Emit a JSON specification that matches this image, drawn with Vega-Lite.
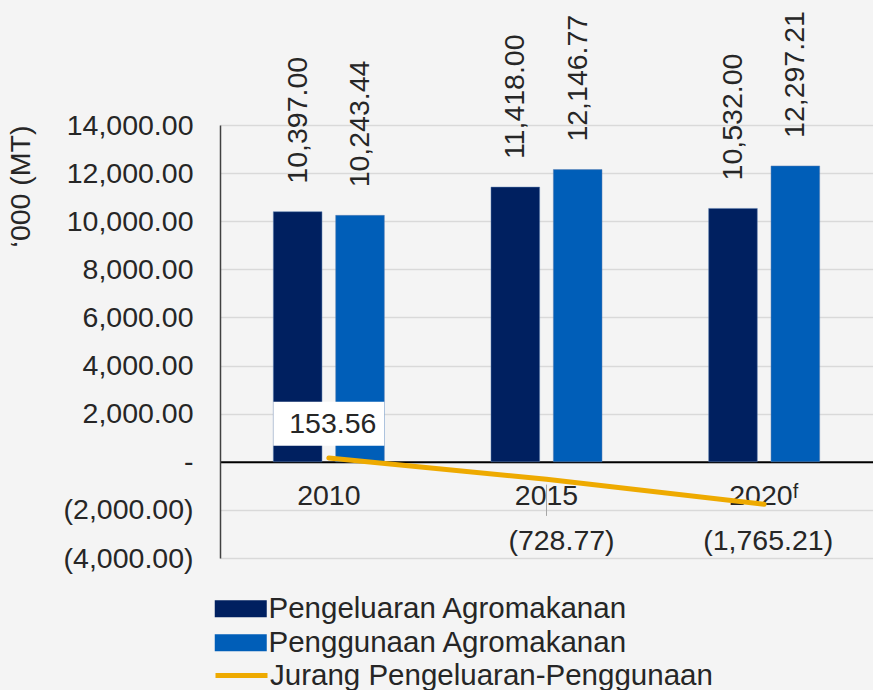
{
  "$schema": "https://vega.github.io/schema/vega-lite/v6.json",
  "width": 653,
  "height": 433,
  "autosize": {"type": "none"},
  "padding": {"left": 220, "top": 125, "right": 0, "bottom": 132},
  "background": "#f4f4f4",
  "config": {
    "font": "Liberation Sans",
    "view": {"stroke": null},
    "axis": {"labelColor": "#262626", "titleColor": "#262626", "labelFont": "Liberation Sans", "titleFont": "Liberation Sans"}
  },
  "datasets": {
    "bars": [
      {"year": "2010", "series": "Pengeluaran Agromakanan", "value": 10397.00},
      {"year": "2010", "series": "Penggunaan Agromakanan", "value": 10243.44},
      {"year": "2015", "series": "Pengeluaran Agromakanan", "value": 11418.00},
      {"year": "2015", "series": "Penggunaan Agromakanan", "value": 12146.77},
      {"year": "2020ᶠ", "series": "Pengeluaran Agromakanan", "value": 10532.00},
      {"year": "2020ᶠ", "series": "Penggunaan Agromakanan", "value": 12297.21}
    ],
    "gap": [
      {"year": "2010", "gap": 153.56},
      {"year": "2015", "gap": -728.77},
      {"year": "2020ᶠ", "gap": -1765.21}
    ]
  },
  "layer": [
    {
      "data": {"name": "bars"},
      "mark": {"type": "bar", "stroke": "#5a7fb0", "strokeWidth": 0.5},
      "encoding": {
        "x": {
          "field": "year", "type": "nominal", "sort": ["2010", "2015", "2020ᶠ"],
          "scale": {"paddingInner": 0.49, "paddingOuter": 0.245},
          "axis": {
            "title": null, "orient": "bottom", "offset": -96.2, "labelAngle": 0,
            "labelFontSize": 28.5, "labelPadding": 20, "ticks": false,
            "domainColor": "#000000", "domainWidth": 2, "grid": false
          }
        },
        "xOffset": {
          "field": "series", "type": "nominal",
          "sort": ["Pengeluaran Agromakanan", "Penggunaan Agromakanan"],
          "scale": {"paddingInner": 0.22, "paddingOuter": 0}
        },
        "y": {
          "field": "value", "type": "quantitative",
          "scale": {"domain": [-4000, 14000], "nice": false, "zero": false},
          "axis": {
            "title": "‘000 (MT)", "titleFontSize": 28.5, "titleFontWeight": "normal",
            "titleAnchor": "end", "titlePadding": 28,
            "values": [-4000, -2000, 0, 2000, 4000, 6000, 8000, 10000, 12000, 14000],
            "labelExpr": "datum.value == 0 ? '-\u00a0\u00a0\u00a0' : (datum.value < 0 ? '(' + format(-datum.value, ',.2f') + ')' : format(datum.value, ',.2f') + '\u00a0')",
            "labelFontSize": 28.5, "labelPadding": 27, "ticks": false,
            "domainColor": "#404040", "domainWidth": 1.5,
            "grid": true, "gridColor": "#d9d9d9", "gridWidth": 1.5
          }
        },
        "color": {
          "field": "series", "type": "nominal",
          "scale": {"domain": ["Pengeluaran Agromakanan", "Penggunaan Agromakanan"], "range": ["#002060", "#005EB8"]},
          "legend": {
            "title": null, "orient": "none", "legendX": 6, "legendY": 469,
            "symbolType": "M-2,-0.66H2V0.66H-2Z", "symbolSize": 676, "symbolStrokeWidth": 0,
            "labelFontSize": 29.5, "labelColor": "#262626", "labelOffset": 13, "rowPadding": 3, "labelLimit": 700
          }
        }
      }
    },
    {
      "data": {"name": "bars"},
      "mark": {"type": "text", "angle": 270, "align": "left", "baseline": "middle", "dx": 28, "fontSize": 28.5, "color": "#262626"},
      "encoding": {
        "x": {"field": "year", "type": "nominal", "sort": ["2010", "2015", "2020ᶠ"]},
        "xOffset": {"field": "series", "type": "nominal", "sort": ["Pengeluaran Agromakanan", "Penggunaan Agromakanan"]},
        "y": {"field": "value", "type": "quantitative"},
        "text": {"field": "value", "type": "quantitative", "format": ",.2f"}
      }
    },
    {
      "data": {"name": "gap"},
      "transform": [{"filter": "datum.year == '2010'"}],
      "mark": {"type": "bar", "color": "#ffffff"},
      "encoding": {
        "x": {"field": "year", "type": "nominal", "sort": ["2010", "2015", "2020ᶠ"]},
        "y": {"datum": 2495},
        "y2": {"datum": 665}
      }
    },
    {
      "data": {"name": "gap"},
      "transform": [{"filter": "datum.year == '2015'"}],
      "mark": {"type": "rule", "color": "#a6a6a6", "strokeWidth": 1},
      "encoding": {
        "x": {"field": "year", "type": "nominal", "sort": ["2010", "2015", "2020ᶠ"]},
        "y": {"datum": -950},
        "y2": {"datum": -2250}
      }
    },
    {
      "data": {"name": "gap"},
      "mark": {"type": "line", "strokeWidth": 5, "strokeCap": "round"},
      "encoding": {
        "x": {"field": "year", "type": "nominal", "sort": ["2010", "2015", "2020ᶠ"]},
        "y": {"field": "gap", "type": "quantitative"},
        "stroke": {
          "datum": "Jurang Pengeluaran-Penggunaan",
          "scale": {"range": ["#EEAA00"]},
          "legend": {
            "title": null, "orient": "none", "legendX": 6, "legendY": 535,
            "symbolType": "M-2,0H2", "symbolSize": 676, "symbolStrokeWidth": 5,
            "labelFontSize": 29.5, "labelColor": "#262626", "labelOffset": 13, "labelLimit": 700
          }
        }
      }
    },
    {
      "data": {"name": "gap"},
      "transform": [
        {"filter": "datum.year == '2010'"},
        {"calculate": "datum.gap < 0 ? '(' + format(-datum.gap, ',.2f') + ')' : format(datum.gap, ',.2f')", "as": "label"}
      ],
      "mark": {"type": "text", "fontSize": 28.5, "color": "#262626", "dx": 4, "baseline": "middle"},
      "encoding": {
        "x": {"field": "year", "type": "nominal", "sort": ["2010", "2015", "2020ᶠ"]},
        "y": {"datum": 1580},
        "text": {"field": "label"}
      }
    },
    {
      "data": {"name": "gap"},
      "transform": [
        {"filter": "datum.year == '2015'"},
        {"calculate": "datum.gap < 0 ? '(' + format(-datum.gap, ',.2f') + ')' : format(datum.gap, ',.2f')", "as": "label"}
      ],
      "mark": {"type": "text", "fontSize": 28.5, "color": "#262626", "dx": 15, "baseline": "middle"},
      "encoding": {
        "x": {"field": "year", "type": "nominal", "sort": ["2010", "2015", "2020ᶠ"]},
        "y": {"datum": -3285},
        "text": {"field": "label"}
      }
    },
    {
      "data": {"name": "gap"},
      "transform": [
        {"filter": "datum.year == '2020ᶠ'"},
        {"calculate": "datum.gap < 0 ? '(' + format(-datum.gap, ',.2f') + ')' : format(datum.gap, ',.2f')", "as": "label"}
      ],
      "mark": {"type": "text", "fontSize": 28.5, "color": "#262626", "dx": 4, "baseline": "middle"},
      "encoding": {
        "x": {"field": "year", "type": "nominal", "sort": ["2010", "2015", "2020ᶠ"]},
        "y": {"datum": -3285},
        "text": {"field": "label"}
      }
    }
  ]
}
